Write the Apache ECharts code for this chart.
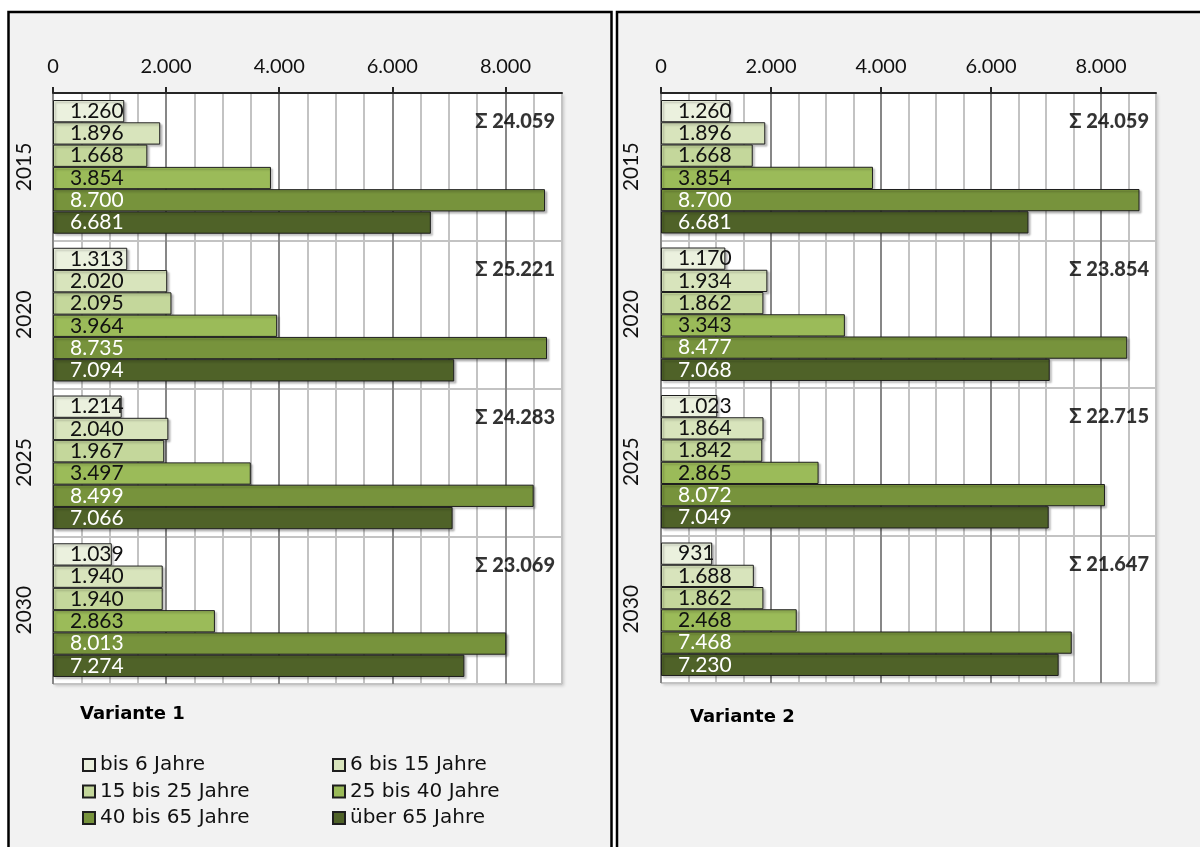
<!DOCTYPE html>
<html>
<head>
<meta charset="utf-8">
<title>Bevölkerung nach Altersgruppen</title>
<script src="https://cdn.jsdelivr.net/npm/echarts@6/dist/echarts.min.js"></script>
<style>
  html, body { margin: 0; padding: 0; background: #fff; }
  #chart { width: 1200px; height: 847px; }
</style>
</head>
<body>
<div id="chart"></div>
<script>
// Kategorien und Altersgruppen
const years = ['2015', '2020', '2025', '2030']
const ageGroups = ['bis 6 Jahre', '6 bis 15 Jahre', '15 bis 25 Jahre', '25 bis 40 Jahre', '40 bis 65 Jahre', 'über 65 Jahre']
const xTicks = [0, 2000, 4000, 6000, 8000]

// Variante 1 (Werte je Jahr 2015, 2020, 2025, 2030)
const v1Bis6 = [1260, 1313, 1214, 1039]
const v1Bis15 = [1896, 2020, 2040, 1940]
const v1Bis25 = [1668, 2095, 1967, 1940]
const v1Bis40 = [3854, 3964, 3497, 2863]
const v1Bis65 = [8700, 8735, 8499, 8013]
const v1Ueber65 = [6681, 7094, 7066, 7274]

// Variante 2
const v2Bis6 = [1260, 1170, 1023, 931]
const v2Bis15 = [1896, 1934, 1864, 1688]
const v2Bis25 = [1668, 1862, 1842, 1862]
const v2Bis40 = [3854, 3343, 2865, 2468]
const v2Bis65 = [8700, 8477, 8072, 7468]
const v2Ueber65 = [6681, 7068, 7049, 7230]

const colors = ['#ebf1de', '#d8e4bc', '#c4d79b', '#9bbb59', '#77933c', '#4f6228']
const labelColors = ['#111', '#111', '#111', '#111', '#fff', '#fff']
const font = 'Lato, "Noto Sans", sans-serif'
const wideFont = '"DejaVu Sans", sans-serif'

const variants = [
  [v1Bis6, v1Bis15, v1Bis25, v1Bis40, v1Bis65, v1Ueber65],
  [v2Bis6, v2Bis15, v2Bis25, v2Bis40, v2Bis65, v2Ueber65]
]

function fmt(v) {
  return String(v).replace(/\B(?=(\d{3})+(?!\d))/g, '.')
}

const grids = [
  { left: 53, top: 93, width: 509, height: 591 },
  { left: 661, top: 93, width: 495, height: 590 }
]

const chart = echarts.init(document.getElementById('chart'))

const xAxis = []
const yAxis = []
const series = []

grids.forEach((g, v) => {
  // feine Gitterlinien alle 500, jede vierte dunkler
  xAxis.push({
    gridIndex: v,
    type: 'value',
    position: 'bottom',
    min: 0,
    max: 9000,
    interval: 500,
    axisLine: { show: false },
    axisTick: { show: false },
    axisLabel: { show: false },
    splitLine: {
      show: true,
      lineStyle: { color: ['#878787', '#c3c3c3', '#c3c3c3', '#c3c3c3'], width: 2 }
    }
  })
  // Beschriftete Achse oben
  xAxis.push({
    gridIndex: v,
    type: 'value',
    position: 'top',
    min: 0,
    max: 9000,
    interval: 2000,
    axisLine: { show: true, lineStyle: { color: '#262626', width: 2 } },
    axisTick: { show: true, customValues: xTicks, length: 6, lineStyle: { color: '#262626', width: 2 } },
    axisLabel: {
      customValues: xTicks,
      formatter: (val) => fmt(val),
      margin: 16,
      fontSize: 20,
      color: '#111',
      fontFamily: font
    },
    splitLine: { show: false }
  })
  yAxis.push({
    gridIndex: v,
    type: 'category',
    inverse: true,
    data: years,
    axisLine: { show: false },
    axisTick: { show: false },
    axisLabel: {
      rotate: 90,
      margin: v === 0 ? 18 : 19,
      fontSize: 21,
      color: '#111',
      fontFamily: font
    },
    splitLine: { show: true, lineStyle: { color: '#c3c3c3', width: 2 } }
  })

  variants[v].forEach((values, s) => {
    series.push({
      name: ageGroups[s],
      type: 'bar',
      xAxisIndex: v * 2,
      yAxisIndex: v,
      barGap: '0%',
      barCategoryGap: '9.5%',
      data: values,
      itemStyle: {
        color: colors[s],
        borderColor: '#1e1e1e',
        borderWidth: 1,
        shadowColor: 'rgba(0, 0, 0, 0.25)',
        shadowOffsetX: 2,
        shadowOffsetY: 2,
        shadowBlur: 2
      },
      label: {
        show: true,
        position: 'insideLeft',
        distance: 17,
        formatter: (p) => fmt(p.value),
        fontSize: 21,
        color: labelColors[s],
        fontFamily: font
      }
    })
  })

  // Summen je Jahr
  series.push({
    type: 'scatter',
    xAxisIndex: v * 2,
    yAxisIndex: v,
    symbolSize: 0,
    silent: true,
    data: years.map((y, i) => [9000, y, variants[v].reduce((a, arr) => a + arr[i], 0)]),
    label: {
      show: true,
      position: 'left',
      distance: 7,
      offset: [0, -45],
      formatter: (p) => 'Σ ' + fmt(p.value[2]),
      fontSize: 20,
      fontWeight: 900,
      color: '#000',
      fontFamily: font
    }
  })
})

chart.setOption({
  animation: false,
  backgroundColor: '#fff',
  textStyle: { fontFamily: font },
  graphic: [
    {
      type: 'rect',
      shape: { x: 8.5, y: 12, width: 603, height: 860 },
      style: { fill: '#f2f2f2', stroke: '#000', lineWidth: 2.5 },
      z: -10
    },
    {
      type: 'rect',
      shape: { x: 617, y: 12, width: 600, height: 860 },
      style: { fill: '#f2f2f2', stroke: '#000', lineWidth: 2.5 },
      z: -10
    }
  ],
  title: [
    {
      text: 'Variante 1',
      left: 80,
      top: 705,
      padding: 0,
      textStyle: { fontSize: 18, fontWeight: 'bold', color: '#000', fontFamily: wideFont }
    },
    {
      text: 'Variante 2',
      left: 690,
      top: 708,
      padding: 0,
      textStyle: { fontSize: 18, fontWeight: 'bold', color: '#000', fontFamily: wideFont }
    }
  ],
  legend: [
    {
      data: [ageGroups[0], ageGroups[2], ageGroups[4]],
      orient: 'vertical',
      left: 82,
      top: 755,
      padding: 0,
      itemWidth: 12,
      itemHeight: 12,
      itemGap: 6.5,
      icon: 'rect',
      textStyle: { fontSize: 20, color: '#111', fontFamily: wideFont }
    },
    {
      data: [ageGroups[1], ageGroups[3], ageGroups[5]],
      orient: 'vertical',
      left: 332,
      top: 755,
      padding: 0,
      itemWidth: 12,
      itemHeight: 12,
      itemGap: 6.5,
      icon: 'rect',
      textStyle: { fontSize: 20, color: '#111', fontFamily: wideFont }
    }
  ],
  grid: grids.map((g) => ({
    left: g.left,
    top: g.top,
    width: g.width,
    height: g.height,
    show: true,
    backgroundColor: '#fff',
    borderWidth: 0,
    shadowColor: 'rgba(0, 0, 0, 0.18)',
    shadowOffsetX: 2,
    shadowOffsetY: 2,
    shadowBlur: 3
  })),
  xAxis: xAxis,
  yAxis: yAxis,
  series: series
})
</script>
</body>
</html>
